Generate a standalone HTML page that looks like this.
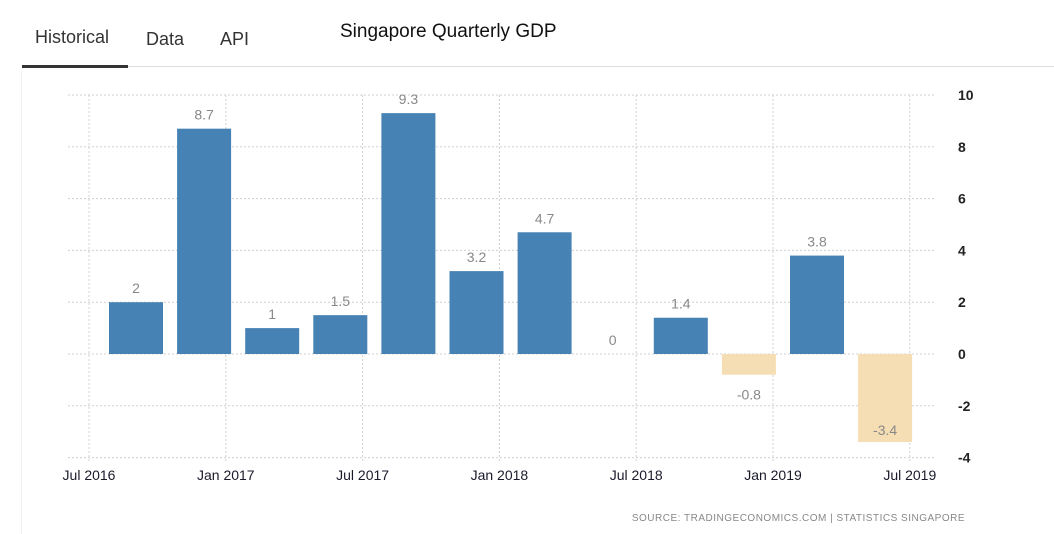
<!DOCTYPE html>
<html><head><meta charset="utf-8"><style>
body{margin:0;width:1054px;height:534px;background:#fff;overflow:hidden;font-family:"Liberation Sans",sans-serif;}
.tab{position:absolute;top:27px;font-size:18px;color:#333;}
</style></head><body>
<div class="tab" style="left:35px;">Historical</div>
<div class="tab" style="left:146px;top:29px;">Data</div>
<div class="tab" style="left:220px;top:29px;">API</div>
<div style="position:absolute;left:340px;top:21px;font-size:19px;color:#111;">Singapore Quarterly GDP</div>
<div style="position:absolute;left:22px;top:65px;width:106px;height:3px;background:#333;"></div>
<div style="position:absolute;left:128px;top:66px;width:926px;height:1px;background:#ddd;"></div>
<div style="position:absolute;left:21px;top:70px;width:1px;height:464px;background:#f2f2f2;"></div>
<svg id="chart" width="1054" height="534" style="position:absolute;left:0;top:0;"></svg>
<script>
const categories=["Q3 2016","Q4 2016","Q1 2017","Q2 2017","Q3 2017","Q4 2017","Q1 2018","Q2 2018","Q3 2018","Q4 2018","Q1 2019","Q2 2019"];
const values=[2,8.7,1,1.5,9.3,3.2,4.7,0,1.4,-0.8,3.8,-3.4];
const yTicks=[10,8,6,4,2,0,-2,-4];
const xTickLabels=["Jul 2016","Jan 2017","Jul 2017","Jan 2018","Jul 2018","Jan 2019","Jul 2019"];
const svg=document.getElementById('chart');
const NS='http://www.w3.org/2000/svg';
const y=v=>354-v*25.9;
const xc=i=>136+i*68.1;
const xg=i=>89+i*136.8;
function mk(t,a){const e=document.createElementNS(NS,t);for(const k in a)e.setAttribute(k,a[k]);svg.appendChild(e);return e;}
yTicks.forEach(t=>{
  const l=mk('line',{x1:68,x2:935,y1:y(t),y2:y(t),stroke:'#d0d0d0','stroke-dasharray':'2,2'});
  
  
  const tx=mk('text',{x:958,y:y(t)+5,'font-size':14,fill:'#222','font-weight':'bold'});
  tx.textContent=t;
  
  
});
xTickLabels.forEach((s,i)=>{
  const l=mk('line',{x1:xg(i),x2:xg(i),y1:95,y2:463,stroke:'#d0d0d0','stroke-dasharray':'2,2'});
  
  
  const tx=mk('text',{x:xg(i),y:480,'font-size':14,fill:'#1a1a2a','text-anchor':'middle'});
  tx.textContent=s;
  
  
});
values.forEach((v,i)=>{
  const top=y(Math.max(v,0)),h=Math.abs(y(v)-y(0));
  const r=mk('rect',{x:xc(i)-27,y:top,width:54,height:h,fill:v<0?'#f5deb3':'#4682b4'});
  
  
  let ly;
  if(v>=0) ly=y(v)-9;
  else if(y(v)+25>445) ly=y(v)-7;
  else ly=y(v)+25;
  const tx=mk('text',{x:xc(i),y:ly,'font-size':14,fill:'#888','text-anchor':'middle'});
  tx.textContent=v;
  
  
});
const src=mk('text',{x:965,y:521,'font-size':10,fill:'#888','text-anchor':'end','letter-spacing':'0.5'});
src.textContent='SOURCE:  TRADINGECONOMICS.COM  |  STATISTICS  SINGAPORE';


</script>
</body></html>
